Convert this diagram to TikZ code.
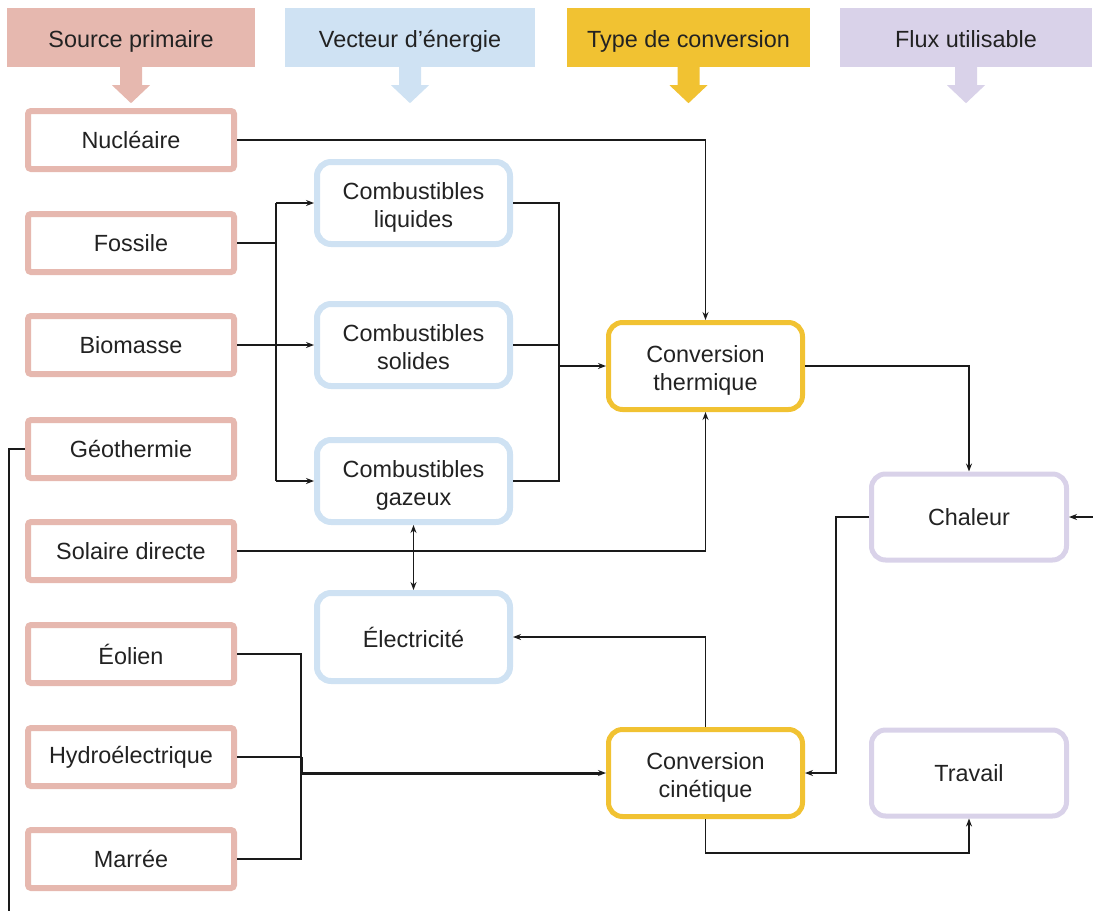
\documentclass[tikz,border=0pt]{standalone}
\usepackage{fontspec}
\setmainfont{Liberation Sans}
\usetikzlibrary{arrows.meta}
\definecolor{pinkc}{HTML}{E6B8AF}
\definecolor{bluec}{HTML}{CFE2F3}
\definecolor{yellowc}{HTML}{F1C232}
\definecolor{purplec}{HTML}{D9D2E9}
\definecolor{txt}{HTML}{222222}
\definecolor{linec}{HTML}{1A1A1A}
\newcommand\hdrarrow[2]{%
  \fill[#2] (#1.south) ++(-11,0) -- ++(0,18) -- ++(-8,0) -- ++(19,18) -- ++(19,-18) -- ++(-8,0) -- ++(0,-18) -- cycle;}
\newcommand\twolines[2]{\raisebox{-5pt}[\height][\depth]{\begin{tabular}{@{}c@{}}#1\\#2\end{tabular}}}
\begin{document}
\begin{tikzpicture}[x=1pt,y=-1pt,
  font=\fontsize{23.4}{28}\selectfont,
  every node/.append style={text=txt},
  header/.style={minimum height=59pt, inner sep=0pt, text height=19pt, text depth=0pt},
  src/.style={draw=pinkc, line width=6pt, rounded corners=3pt, minimum width=206pt, minimum height=58pt, inner sep=0pt, fill=white},
  vec/.style={draw=bluec, line width=6pt, rounded corners=14pt, minimum width=193pt, minimum height=82pt, inner sep=0pt},
  conv/.style={draw=yellowc, line width=5pt, rounded corners=14pt, minimum width=194pt, minimum height=87pt, inner sep=0pt},
  flux/.style={draw=purplec, line width=5pt, rounded corners=14pt, minimum width=195pt, minimum height=86pt, inner sep=0pt},
  plain/.style={draw=linec, line width=1.3pt},
  arr/.style={plain, -{Stealth[length=8pt,width=6pt]}},
  thickarr/.style={draw=linec, line width=3pt, -{Stealth[length=8pt,width=6pt]}},
  arrboth/.style={plain, {Stealth[length=8pt,width=6pt]}-{Stealth[length=8pt,width=6pt]}}
]
\useasboundingbox (0,0) rectangle (1093,911);

% headers
\node[header, fill=pinkc, minimum width=248pt] (h1) at (131,37.5) {Source primaire};
\node[header, fill=bluec, minimum width=250pt] (h2) at (410,37.5) {Vecteur d’énergie};
\node[header, fill=yellowc, minimum width=243pt] (h3) at (688.5,37.5) {Type de conversion};
\node[header, fill=purplec, minimum width=252pt] (h4) at (966,37.5) {Flux utilisable};
\hdrarrow{h1}{pinkc}
\hdrarrow{h2}{bluec}
\hdrarrow{h3}{yellowc}
\hdrarrow{h4}{purplec}

% sources
\node[src] (nuc) at (131,140) {Nucléaire};
\node[src] (fos) at (131,243) {Fossile};
\node[src] (bio) at (131,345) {Biomasse};
\node[src] (geo) at (131,449) {Géothermie};
\node[src] (sol) at (131,551) {Solaire directe};
\node[src] (eol) at (131,654) {Éolien};
\node[src] (hyd) at (131,757) {Hydroélectrique};
\node[src] (mar) at (131,859) {Marrée};

% vectors
\node[vec] (liq) at (413.5,203) {\twolines{Combustibles}{liquides}};
\node[vec] (soli) at (413.5,345) {\twolines{Combustibles}{solides}};
\node[vec] (gaz) at (413.5,481) {\twolines{Combustibles}{gazeux}};
\node[vec, minimum height=88pt] (ele) at (413.5,637) {Électricité};

% conversions
\node[conv] (cth) at (705.5,366) {\twolines{Conversion}{thermique}};
\node[conv] (cci) at (705.5,773) {\twolines{Conversion}{cinétique}};

% flux
\node[flux] (cha) at (969,517) {Chaleur};
\node[flux] (tra) at (969,773) {Travail};

% helper coordinates
\coordinate (jA) at (276,0);
\coordinate (jB) at (559,0);
\coordinate (jC) at (301,0);
\coordinate (jD) at (836,0);
\coordinate (bot) at (0,853);
\coordinate (geoEnd) at (9,911);
\coordinate (chaIn) at (1093,517);

% connectors
\draw[arr] (nuc.east) -| (cth.north);
\draw[plain] (fos.east) -- (fos.east -| jA);
\draw[plain] (jA |- liq.west) -- (jA |- gaz.west);
\draw[arr] (jA |- liq.west) -- (liq.west);
\draw[arr] (bio.east) -- (soli.west);
\draw[arr] (jA |- gaz.west) -- (gaz.west);
\draw[plain] (liq.east) -| (jB |- gaz.east) -- (gaz.east);
\draw[plain] (soli.east) -- (soli.east -| jB);
\draw[arr] (jB |- cth.west) -- (cth.west);
\draw[arr] (sol.east) -| (cth.south);
\draw[arrboth] (gaz.south) -- (ele.north);
\draw[arr] (cth.east) -| (cha.north);
\draw[arr] (chaIn) -- (cha.east);
\draw[plain] (geo.west) -| (geoEnd);
\draw[arr] (cha.west) -| (jD |- cci.east) -- (cci.east);
\draw[arr] (cci.north) |- (ele.east);
\draw[plain] (eol.east) -| (jC |- mar.east) -- (mar.east);
\draw[plain] (hyd.east) -- (hyd.east -| jC);
\draw[thickarr] (hyd.east -| jC) -- (jC |- cci.west) -- (cci.west);
\draw[arr] (cci.south) -- (cci.south |- bot) -| (tra.south);
\end{tikzpicture}
\end{document}
